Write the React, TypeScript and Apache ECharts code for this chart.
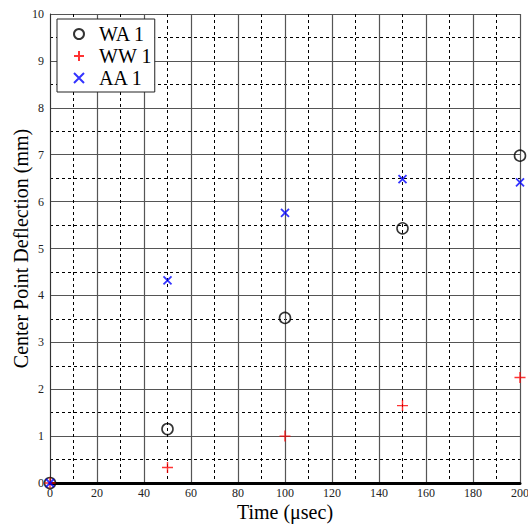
import React, { useEffect, useRef } from "react";
import * as echarts from "echarts";

const timeValues = [0, 50, 100, 150, 200];
const waValues = [0, 1.15, 3.52, 5.43, 6.98];
const wwValues = [0, 0.33, 1.0, 1.65, 2.25];
const aaValues = [0, 4.32, 5.76, 6.48, 6.41];
const seriesNames = ["WA 1", "WW 1", "AA 1"];

const PLUS = "path://M0,5 L10,5 M5,0 L5,10";
const CROSS = "path://M0,0 L10,10 M10,0 L0,10";

export default function App() {
  const ref = useRef<HTMLDivElement>(null);
  useEffect(() => {
    if (!ref.current) return;
    const chart = echarts.init(ref.current, null, { renderer: "svg" });
    const pair = (ys: number[]) => timeValues.map((t, i) => [t, ys[i]]);
    const font = "'Liberation Serif', 'DejaVu Serif', serif";
    chart.setOption({
      animation: false,
      backgroundColor: "#fff",
      grid: { left: 50, right: 8, top: 14, bottom: 42, containLabel: false, outerBoundsMode: "none" },
      legend: {
        left: 57,
        top: 19,
        orient: "vertical",
        backgroundColor: "#fff",
        borderColor: "#222",
        borderWidth: 1,
        borderRadius: 0,
        padding: [5, 3, 4, 16],
        itemGap: 2,
        itemWidth: 30,
        itemHeight: 10,
        textStyle: { fontFamily: font, fontSize: 20, color: "#000" },
        data: seriesNames,
      },
      xAxis: {
        type: "value",
        min: 0,
        max: 200,
        interval: 20,
        name: "Time (μsec)",
        nameLocation: "middle",
        nameGap: 19,
        nameMoveOverlap: false,
        nameTextStyle: { fontFamily: font, fontSize: 20, color: "#000" },
        axisLine: { show: true, onZero: false, lineStyle: { color: "#000", width: 3 } },
        axisTick: { show: false },
        axisLabel: { fontFamily: font, fontSize: 12, color: "#222", margin: 4 },
        splitLine: { show: true, lineStyle: { color: "#555", width: 1.2 } },
        minorTick: { show: false, splitNumber: 2 },
        minorSplitLine: { show: true, lineStyle: { color: "#000", width: 1, type: [3, 3] } },
      },
      yAxis: {
        type: "value",
        min: 0,
        max: 10,
        interval: 1,
        name: "Center Point Deflection (mm)",
        nameLocation: "middle",
        nameGap: 19,
        nameMoveOverlap: false,
        nameTextStyle: { fontFamily: font, fontSize: 20, color: "#000" },
        axisLine: { show: true, lineStyle: { color: "#333", width: 1 } },
        axisTick: { show: false },
        axisLabel: { fontFamily: font, fontSize: 12, color: "#222", margin: 6 },
        splitLine: { show: true, lineStyle: { color: "#555", width: 1.2 } },
        minorTick: { show: false, splitNumber: 2 },
        minorSplitLine: { show: true, lineStyle: { color: "#000", width: 1, type: [3, 3] } },
      },
      series: [
        {
          name: seriesNames[0],
          type: "scatter",
          symbol: "circle",
          symbolSize: 11,
          itemStyle: { color: "rgba(0,0,0,0)", borderColor: "#000", borderWidth: 1.6 },
          data: pair(waValues),
          z: 3,
        },
        {
          name: seriesNames[1],
          type: "scatter",
          symbol: PLUS,
          symbolSize: 11,
          itemStyle: { color: "rgba(0,0,0,0)", borderColor: "#f00", borderWidth: 1.4 },
          data: pair(wwValues),
          z: 4,
        },
        {
          name: seriesNames[2],
          type: "scatter",
          symbol: CROSS,
          symbolSize: 8,
          itemStyle: { color: "rgba(0,0,0,0)", borderColor: "#00f", borderWidth: 1.8 },
          data: pair(aaValues),
          z: 5,
        },
      ],
    });
    return () => chart.dispose();
  }, []);
  return <div ref={ref} style={{ width: 528, height: 525, position: "absolute", left: 0, top: 0 }} />;
}
